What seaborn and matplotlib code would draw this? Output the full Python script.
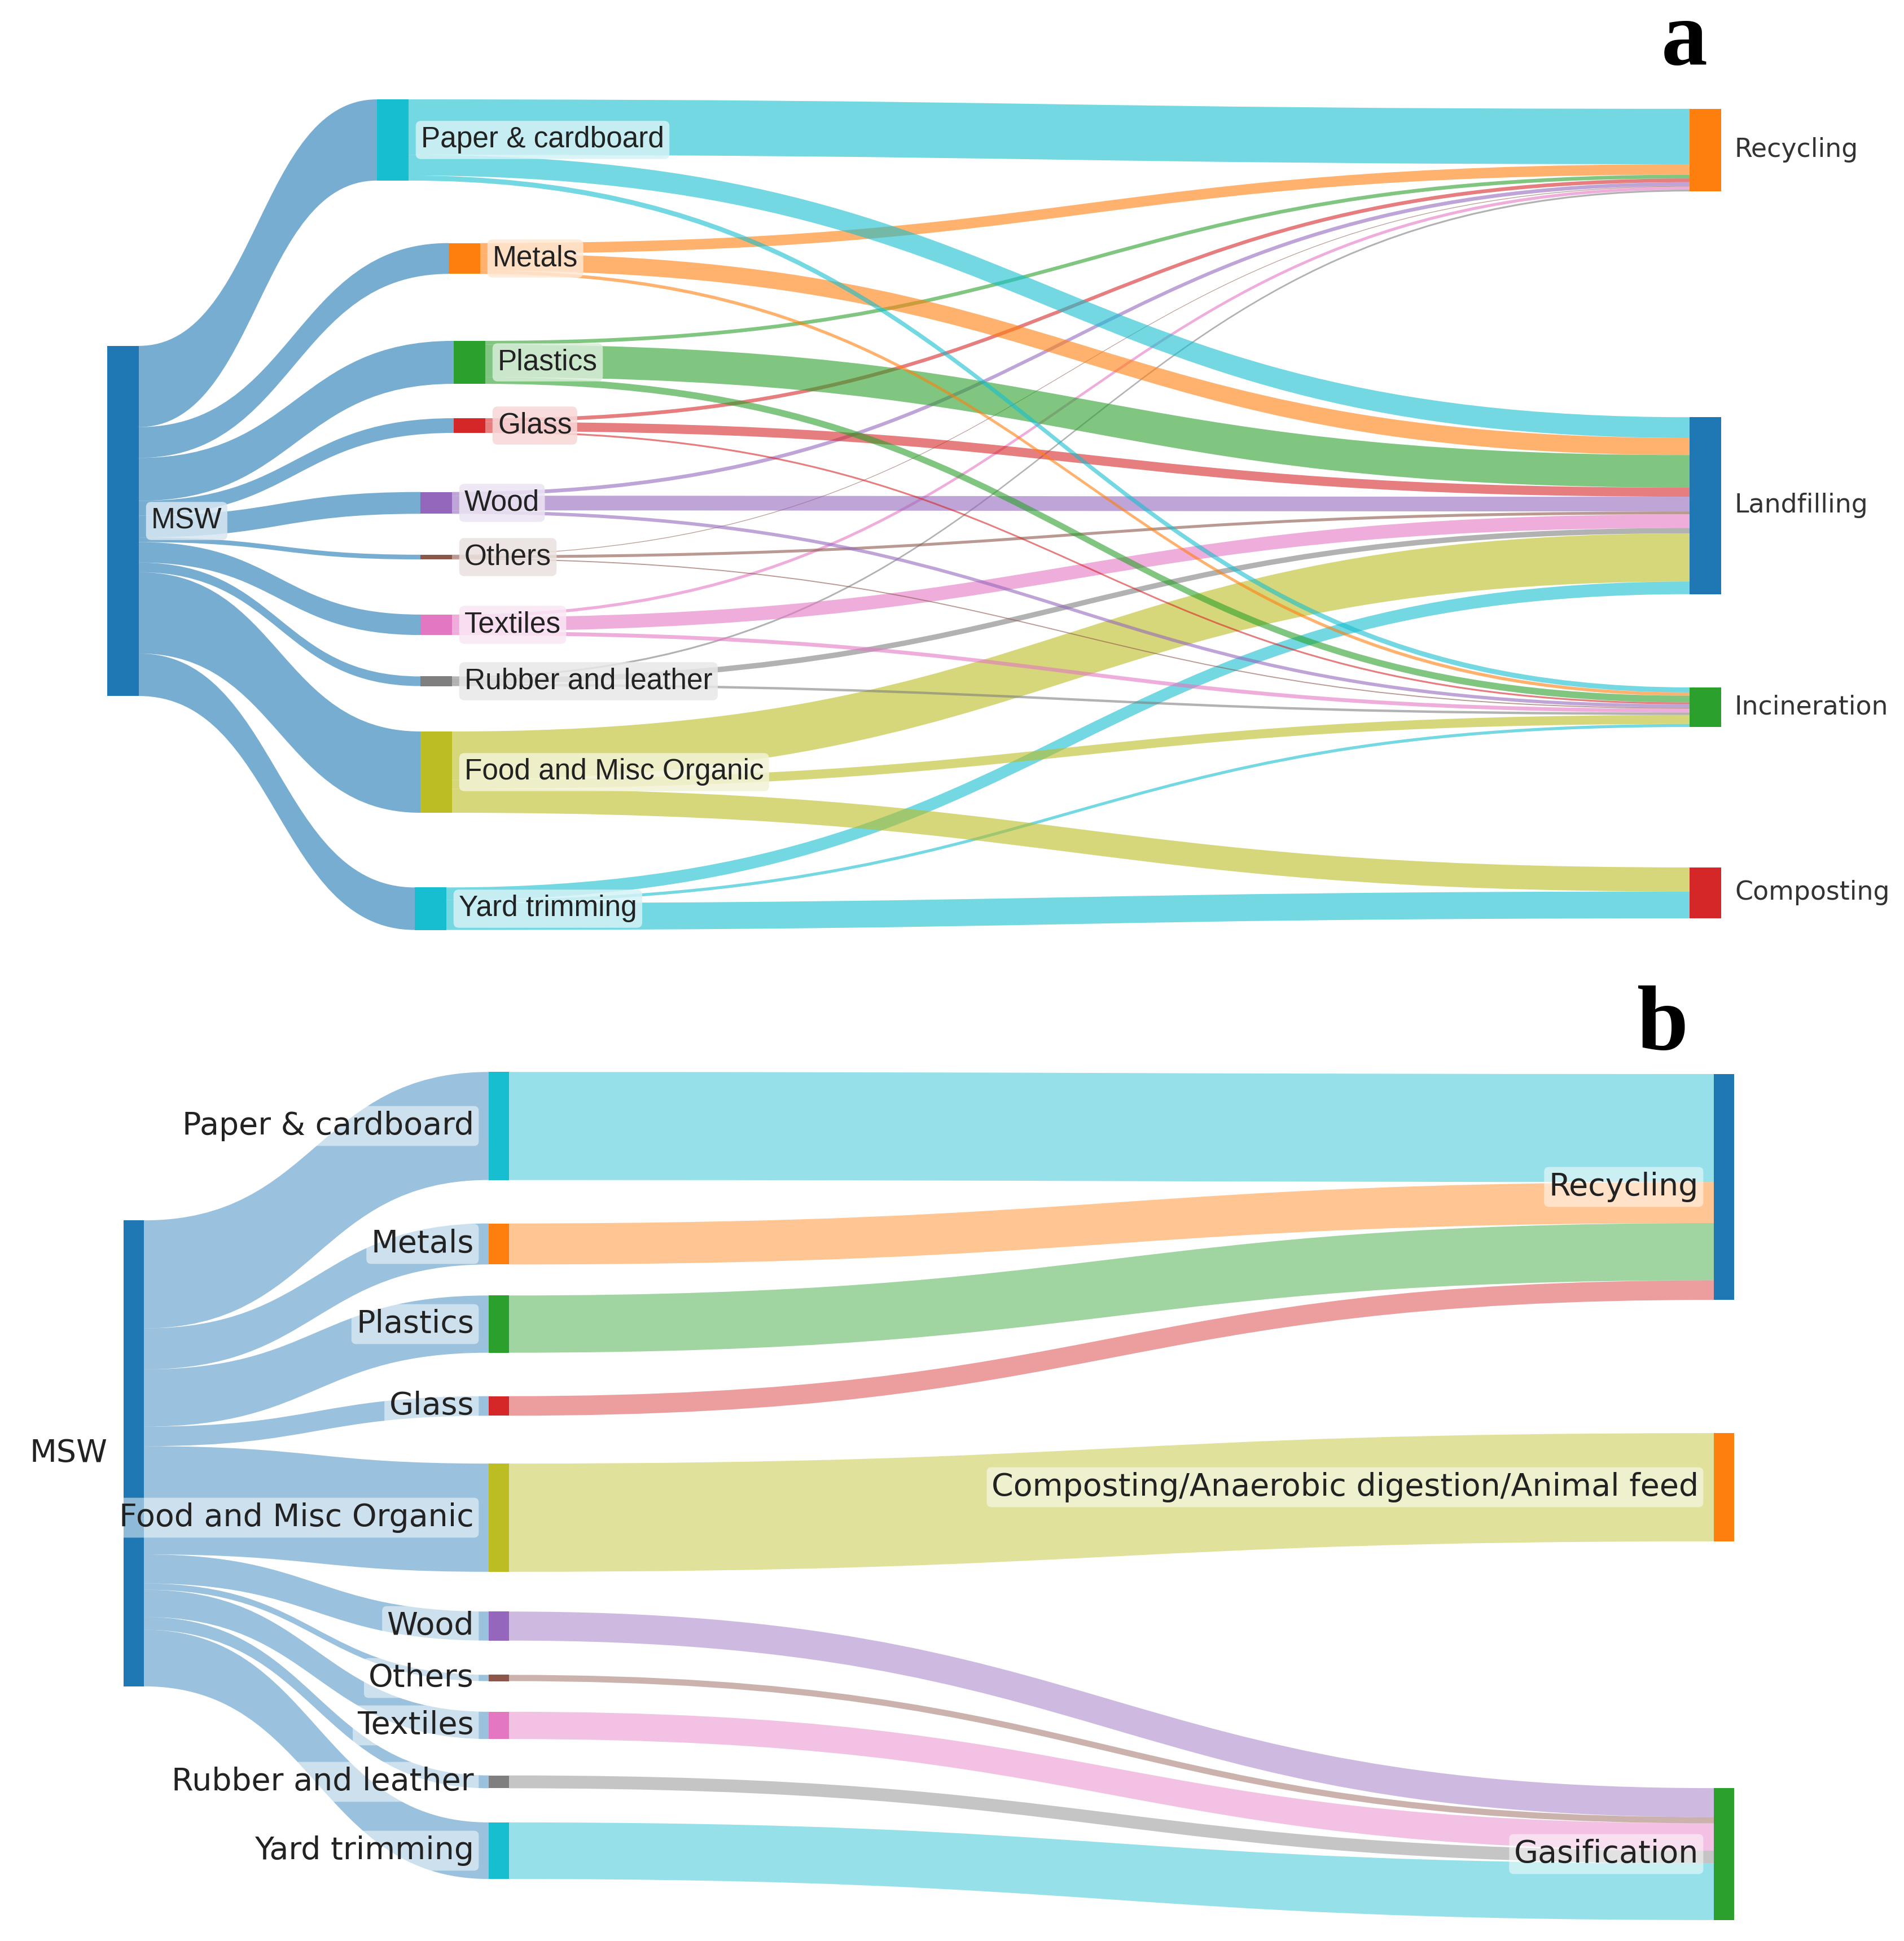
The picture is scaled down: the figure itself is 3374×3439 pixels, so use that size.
import numpy as np
import matplotlib
matplotlib.use("Agg")
import matplotlib.pyplot as plt
from matplotlib.path import Path
from matplotlib.patches import PathPatch, Rectangle
from matplotlib.colors import to_rgb
import seaborn as sns

# ------------------------------------------------------------------ data (million tons)
materials = ["Paper & cardboard", "Metals", "Plastics", "Glass", "Wood", "Others",
             "Textiles", "Rubber and leather", "Food and Misc Organic", "Yard trimming"]
routes_a = ["Recycling", "Landfilling", "Incineration", "Composting"]
recycling    = [46.0, 8.7, 3.1, 3.1, 3.1, 0.6, 2.5, 1.5, 0.0, 0.0]
landfilling  = [17.2, 14.2, 27.0, 7.6, 12.2, 2.4, 11.3, 4.5, 40.0, 10.5]
incineration = [4.2, 2.7, 5.6, 1.5, 2.8, 0.9, 3.2, 2.0, 7.5, 2.5]
composting   = [0.0, 0.0, 0.0, 0.0, 0.0, 0.0, 0.0, 0.0, 20.0, 22.3]

routes_b = ["Recycling", "Composting/Anaerobic digestion/Animal feed", "Gasification"]
route_b = ["Recycling", "Recycling", "Recycling", "Recycling", "Gasification", "Gasification",
           "Gasification", "Gasification", "Composting/Anaerobic digestion/Animal feed",
           "Gasification"]
order_b = ["Paper & cardboard", "Metals", "Plastics", "Glass", "Food and Misc Organic",
           "Wood", "Others", "Textiles", "Rubber and leather", "Yard trimming"]

# ------------------------------------------------------------------ style / layout
sns.set_theme(style="white")
plt.rcParams["font.family"] = ["DejaVu Sans"]
pal = sns.color_palette("tab10")
mat_color = dict(zip(materials, [pal[9], pal[1], pal[2], pal[3], pal[4], pal[5],
                                 pal[6], pal[7], pal[8], pal[9]]))
dst_color_a = dict(zip(routes_a, [pal[1], pal[0], pal[2], pal[3]]))
dst_color_b = dict(zip(routes_b, [pal[0], pal[1], pal[2]]))
src_color = pal[0]

W, H = 3374, 3439
# panel a layout (figure pixels)
A_scale, A_w = 2.134, 56
A_src = (190, 923)
A_mat_x = [668, 795, 804, 804, 745, 745, 745, 745, 745, 735]
A_mat_cy = [248, 458, 642, 754, 891, 987, 1107, 1207, 1368, 1610]
A_dst_x = 2994
A_dst_cy = [266, 896, 1253, 1582]
# panel b layout
B_scale, B_w = 2.84, 36
B_src = (219, 2575)
B_mat_x = 866
B_mat_cy = [1995, 2204, 2346, 2491, 2689, 2881, 2973, 3057, 3157, 3279]
B_dst_x = 3037
B_dst_cy = [2103, 2635, 3285]

fig = plt.figure(figsize=(W / 100, H / 100), dpi=100)
ax = fig.add_axes([0, 0, 1, 1])
ax.set_xlim(0, W)
ax.set_ylim(H, 0)
ax.axis("off")


def band(x0, y0a, y0b, x1, y1a, y1b, color, alpha):
    xm = (x0 + x1) / 2
    verts = [(x0, y0a), (xm, y0a), (xm, y1a), (x1, y1a),
             (x1, y1b), (xm, y1b), (xm, y0b), (x0, y0b), (x0, y0a)]
    codes = [Path.MOVETO, Path.CURVE4, Path.CURVE4, Path.CURVE4,
             Path.LINETO, Path.CURVE4, Path.CURVE4, Path.CURVE4, Path.CLOSEPOLY]
    ax.add_patch(PathPatch(Path(verts, codes), facecolor=color, alpha=alpha,
                           edgecolor="none", zorder=1))


def sankey(nodes, links, scale, width, alpha):
    tin = {n: 0.0 for n in nodes}
    tout = {n: 0.0 for n in nodes}
    for s, t, v in links:
        tout[s] += v
        tin[t] += v
    top = {}
    for n, d in nodes.items():
        h = max(tin[n], tout[n]) * scale
        top[n] = d["cy"] - h / 2
        ax.add_patch(Rectangle((d["x"], top[n]), width, h, facecolor=d["color"],
                               edgecolor="none", zorder=3))
    y_out, y_in = {}, {}
    for n in nodes:
        cur = top[n]
        outs = [(i, l) for i, l in enumerate(links) if l[0] == n]
        outs.sort(key=lambda p: nodes[p[1][1]]["cy"])
        for i, (s, t, v) in outs:
            y_out[i] = (cur, cur + v * scale)
            cur += v * scale
        cur = top[n]
        ins = [(i, l) for i, l in enumerate(links) if l[1] == n]
        ins.sort(key=lambda p: nodes[p[1][0]]["cy"])
        for i, (s, t, v) in ins:
            y_in[i] = (cur, cur + v * scale)
            cur += v * scale
    for i, (s, t, v) in enumerate(links):
        x0 = nodes[s]["x"] + width
        x1 = nodes[t]["x"]
        band(x0, y_out[i][0], y_out[i][1], x1, y_in[i][0], y_in[i][1],
             nodes[s]["color"], alpha)
    return top


def tint(c, f):
    r, g, b = to_rgb(c)
    return (1 - f + f * r, 1 - f + f * g, 1 - f + f * b)


# ------------------------------------------------------------------ panel a
nodes_a = {"MSW": dict(x=A_src[0], cy=A_src[1], color=src_color)}
for m, x, cy in zip(materials, A_mat_x, A_mat_cy):
    nodes_a[m] = dict(x=x, cy=cy, color=mat_color[m])
for r, cy in zip(routes_a, A_dst_cy):
    nodes_a[r] = dict(x=A_dst_x, cy=cy, color=dst_color_a[r])
links_a = []
flows = [recycling, landfilling, incineration, composting]
for k, m in enumerate(materials):
    links_a.append(("MSW", m, sum(f[k] for f in flows)))
for r, f in zip(routes_a, flows):
    for k, m in enumerate(materials):
        if f[k] > 0:
            links_a.append((m, r, f[k]))
sankey(nodes_a, links_a, A_scale, A_w, 0.6)

FS_A = 37
LAB_A = ["Liberation Sans", "DejaVu Sans"]
ax.text(A_src[0] + A_w + 22, A_src[1], "MSW", fontsize=FS_A, family=LAB_A, color="#222",
        va="center", ha="left", zorder=5,
        bbox=dict(boxstyle="round,pad=0.18", fc=tint(src_color, 0.18), ec="none", alpha=0.85))
for m, x, cy in zip(materials, A_mat_x, A_mat_cy):
    ax.text(x + A_w + 22, cy, m, fontsize=FS_A, family=LAB_A, color="#222", va="center",
            ha="left", zorder=5,
            bbox=dict(boxstyle="round,pad=0.18", fc=tint(mat_color[m], 0.18),
                      ec="none", alpha=0.85))
for r, cy in zip(routes_a, A_dst_cy):
    ax.text(A_dst_x + A_w + 24, cy, r, fontsize=33, color="#333", va="center",
            ha="left", zorder=5)
ax.text(2985, 114, "a", fontsize=118, fontweight="bold", family="Liberation Serif",
        ha="center", va="baseline", color="black")

# ------------------------------------------------------------------ panel b
nodes_b = {"MSW ": dict(x=B_src[0], cy=B_src[1], color=src_color)}
for m, cy in zip(order_b, B_mat_cy):
    nodes_b[m] = dict(x=B_mat_x, cy=cy, color=mat_color[m])
for r, cy in zip(routes_b, B_dst_cy):
    nodes_b[r] = dict(x=B_dst_x, cy=cy, color=dst_color_b[r])
links_b = []
for m in order_b:
    k = materials.index(m)
    links_b.append(("MSW ", m, sum(f[k] for f in flows)))
for m in order_b:
    k = materials.index(m)
    links_b.append((m, route_b[k], sum(f[k] for f in flows)))
sankey(nodes_b, links_b, B_scale, B_w, 0.45)

FS_B = 40
ax.text(B_src[0] - 28, B_src[1], "MSW", fontsize=FS_B, color="#222", va="center",
        ha="right", zorder=5)
for m, cy in zip(order_b, B_mat_cy):
    ax.text(B_mat_x - 26, cy, m, fontsize=FS_B, color="#222", va="center", ha="right",
            zorder=5, bbox=dict(boxstyle="round,pad=0.15", fc="white", ec="none",
                                alpha=0.5))
for r, cy in zip(routes_b, B_dst_cy):
    ax.text(B_dst_x - 27, cy, r, fontsize=FS_B, color="#222", va="center", ha="right",
            zorder=5, bbox=dict(boxstyle="round,pad=0.15", fc="white", ec="none",
                                alpha=0.5))
ax.text(2947, 1858, "b", fontsize=118, fontweight="bold", family="Liberation Serif",
        ha="center", va="baseline", color="black")

fig.savefig("out.png", dpi=100, facecolor="white")
